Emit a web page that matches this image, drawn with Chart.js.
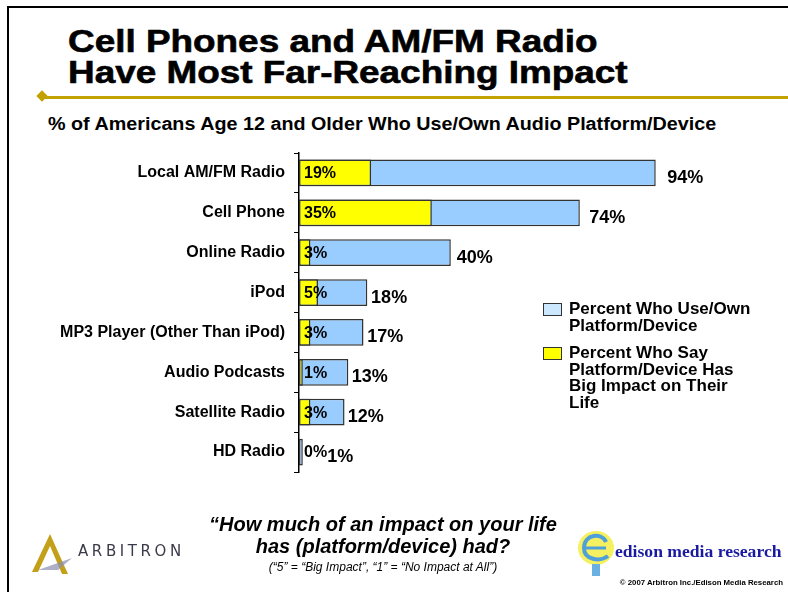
<!DOCTYPE html>
<html>
<head>
<meta charset="utf-8">
<script src="https://cdn.jsdelivr.net/npm/chart.js@4.4.1/dist/chart.umd.min.js"></script>
<style>
  html, body { margin: 0; padding: 0; background: #fff; }
  body { width: 788px; height: 592px; position: relative; overflow: hidden; font-family: "Liberation Sans", Arial, sans-serif; }
  .frame { position: absolute; left: 7px; top: 6px; width: 800px; height: 600px; border-left: 2px solid #000; border-top: 2px solid #000; }
  .title { position: absolute; left: 68px; top: 26px; font-weight: bold; font-size: 31px; line-height: 31px; color: #000; white-space: nowrap;
           -webkit-text-stroke: 0.6px #000; transform: scaleX(1.19); transform-origin: 0 0; }
  .rule { position: absolute; left: 44px; top: 96px; width: 750px; height: 3px; background: #c2a200; }
  .diamond { position: absolute; left: 38px; top: 92px; width: 8px; height: 8px; background: #c2a200; transform: rotate(45deg); }
  .sub { position: absolute; left: 48px; top: 113.5px; font-weight: bold; font-size: 18px; color: #000; white-space: nowrap;
         transform: scaleX(1.097); transform-origin: 0 0; }
  #chart { position: absolute; left: 0; top: 0; }
  .legend { position: absolute; left: 543px; font-weight: bold; font-size: 17px; line-height: 16.5px; color: #000; }
  .legend .sw { position: absolute; left: 0; top: 2px; width: 17px; height: 11px; border: 1px solid #333; }
  .legend .tx { position: absolute; left: 26px; top: 0; white-space: nowrap; }
  .q { position: absolute; left: 183px; width: 400px; text-align: center; font-style: italic; font-weight: bold; color: #000; white-space: nowrap; }
  .arb { position: absolute; left: 78px; top: 542px; font-size: 15px; letter-spacing: 3.6px; color: #3a3a4a; font-family: "DejaVu Sans", sans-serif; }
  .edison { position: absolute; left: 615px; top: 541px; font-family: "Liberation Serif", serif; font-weight: bold; font-size: 17.6px; color: #1a1aa0; }
  .copy { position: absolute; right: 5px; top: 578px; font-weight: bold; font-size: 7.8px; color: #000; }
</style>
</head>
<body>
<div class="frame"></div>
<div class="title">Cell Phones and AM/FM Radio<br>Have Most Far-Reaching Impact</div>
<div class="rule"></div>
<div class="diamond"></div>
<div class="sub">% of Americans Age 12 and Older Who Use/Own Audio Platform/Device</div>
<canvas id="chart" width="788" height="592"></canvas>
<div class="legend" style="top:301px">
  <div class="sw" style="background:#cce8ff"></div>
  <div class="tx">Percent Who Use/Own<br>Platform/Device</div>
</div>
<div class="legend" style="top:345px">
  <div class="sw" style="background:#ffff00"></div>
  <div class="tx">Percent Who Say<br>Platform/Device Has<br>Big Impact on Their<br>Life</div>
</div>
<div class="q" style="top:514px; font-size:20px; line-height:20px">“How much of an impact on your life</div>
<div class="q" style="top:536px; font-size:20px; line-height:20px">has (platform/device) had?</div>
<div class="q" style="top:561px; font-size:12px; line-height:12px; font-weight:normal">(“5” = “Big Impact”, “1” = “No Impact at All”)</div>
<svg style="position:absolute;left:28px;top:530px" width="50" height="50" viewBox="0 0 50 50">
  <path d="M4 42 L22 4 L40 44 L34 44 L22 16 L10 42 Z" fill="#c4a01a"/>
  <path d="M10 40 L44 28 L30 40 Z" fill="#8a8fb0" opacity="0.7"/>
</svg>
<div class="arb">ARBITRON</div>
<svg style="position:absolute;left:576px;top:528px" width="40" height="52" viewBox="0 0 40 52">
  <ellipse cx="20" cy="20" rx="18" ry="17" fill="#f4f060"/>
  <path d="M30 14 C26 4 8 6 8 20 C8 32 24 34 32 28" stroke="#4fa0d8" stroke-width="4" fill="none"/>
  <path d="M10 20 L30 20" stroke="#4fa0d8" stroke-width="3"/>
  <rect x="16" y="36" width="8" height="12" fill="#6ab0e0"/>
</svg>
<div class="edison">edison media research</div>
<div class="copy">© 2007 Arbitron Inc./Edison Media Research</div>
<script>
const categories = ['Local AM/FM Radio', 'Cell Phone', 'Online Radio', 'iPod',
  'MP3 Player (Other Than iPod)', 'Audio Podcasts', 'Satellite Radio', 'HD Radio'];
const useOwn = [94, 74, 40, 18, 17, 13, 12, 1];
const bigImpact = [19, 35, 3, 5, 3, 1, 3, 0];
const xMax = 100;

const barLabels = {
  id: 'barLabels',
  afterDatasetsDraw(chart) {
    const ctx = chart.ctx;
    const left = chart.chartArea.left;
    const blueMeta = chart.getDatasetMeta(0);
    const yelMeta = chart.getDatasetMeta(1);
    ctx.save();
    ctx.fillStyle = '#000';
    ctx.textBaseline = 'middle';
    ctx.textAlign = 'left';
    categories.forEach((c, i) => {
      const yb = yelMeta.data[i];
      ctx.font = 'bold 16px "Liberation Sans", Arial, sans-serif';
      const yText = bigImpact[i] + '%';
      ctx.fillText(yText, left + 5, yb.y + 1);
      const yEnd = left + 5 + ctx.measureText(yText).width;
      const bb = blueMeta.data[i];
      ctx.font = 'bold 18px "Liberation Sans", Arial, sans-serif';
      const x = Math.max(bb.x + 2 + useOwn[i] * 0.1, yEnd);
      ctx.fillText(useOwn[i] + '%', x, bb.y + 5);
    });
    ctx.restore();
  }
};

new Chart(document.getElementById('chart').getContext('2d'), {
  type: 'bar',
  data: {
    labels: categories,
    datasets: [{
      label: 'Percent Who Use/Own Platform/Device',
      data: useOwn,
      backgroundColor: '#99ccff',
      borderColor: '#333',
      borderWidth: 1.5,
      borderSkipped: false,
      order: 1
    }, {
      label: 'Percent Who Say Platform/Device Has Big Impact on Their Life',
      data: bigImpact,
      backgroundColor: '#ffff00',
      borderColor: '#333',
      borderWidth: 1.5,
      borderSkipped: false,
      order: 0
    }]
  },
  options: {
    indexAxis: 'y',
    responsive: false,
    animation: false,
    grouped: false,
    barPercentage: 0.67,
    categoryPercentage: 1,
    layout: { padding: { left: 0, top: 153, right: 109.5, bottom: 120 } },
    plugins: { legend: { display: false }, tooltip: { enabled: false } },
    scales: {
      x: { display: false, min: 0, max: xMax },
      y: {
        afterFit(scale) { scale.width = 299; },
        grid: { drawOnChartArea: false, tickLength: 5, color: '#000', lineWidth: 1 },
        border: { color: '#000', width: 1.5 },
        ticks: { color: '#000', padding: 9, font: { family: '"Liberation Sans", Arial, sans-serif', weight: 'bold', size: 16 } }
      }
    }
  },
  plugins: [barLabels]
});
</script>
</body>
</html>
